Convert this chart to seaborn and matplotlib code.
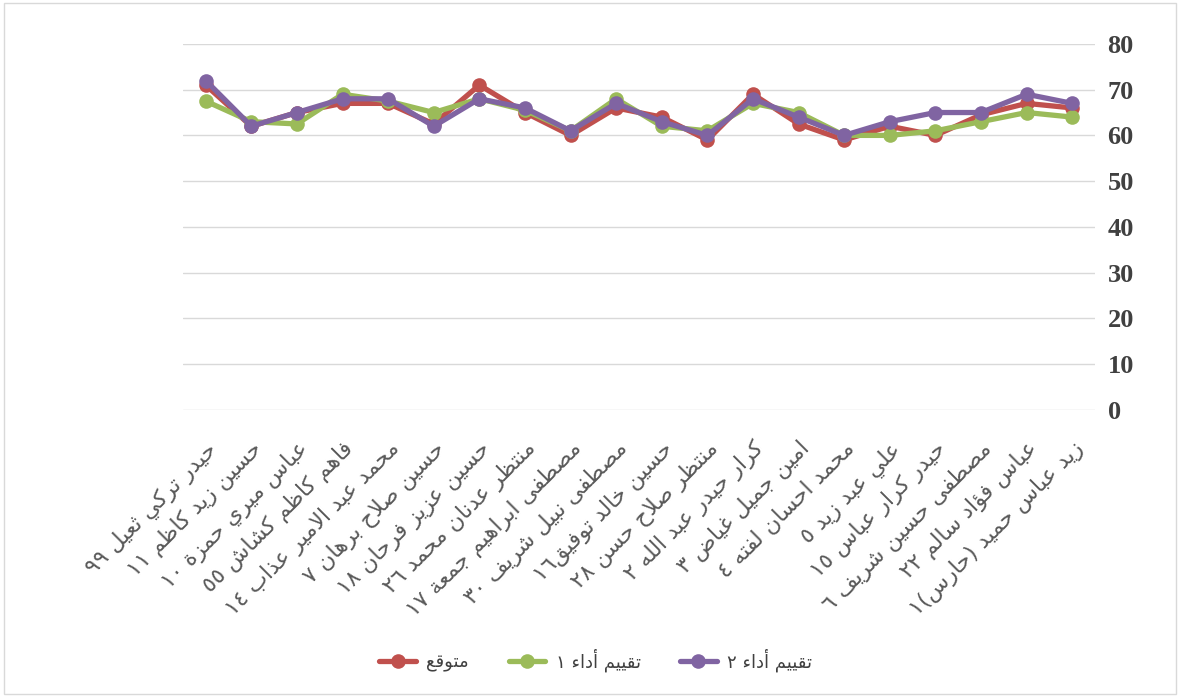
import pandas as pd
import seaborn as sns
import matplotlib.pyplot as plt
from matplotlib.patches import Rectangle

players = [
    'حيدر تركي ثعيل ٩٩', 'حسين زيد كاظم ١١', 'عباس ميري حمزة ١٠', 'فاهم كاظم كشاش ٥٥',
    'محمد عبد الامير عذاب ١٤', 'حسين صلاح برهان ٧', 'حسين عزيز فرحان ١٨', 'منتظر عدنان محمد ٢٦',
    'مصطفى ابراهيم جمعة ١٧', 'مصطفى نبيل شريف ٣٠', 'حسين خالد توفيق١٦', 'منتظر صلاح حسن ٢٨',
    'كرار حيدر عبد الله ٢', 'امين جميل غياض ٣', 'محمد احسان لفته ٤', 'علي عبد زيد ٥',
    'حيدر كرار عباس ١٥', 'مصطفى حسين شريف ٦', 'عباس فؤاد سالم ٢٢', 'زيد عباس حميد (حارس)١',
]
series_names = ['متوقع', 'تقييم أداء ١', 'تقييم أداء ٢']
expected = [71, 62, 65, 67, 67, 62.5, 71, 65, 60, 66, 64, 59, 69, 62.5, 59, 62, 60, 64.5, 67, 66]
eval1 = [67.5, 63, 62.5, 69, 67.5, 65, 68, 65.5, 61, 68, 62, 61, 67, 65, 60, 60, 61, 63, 65, 64]
eval2 = [72, 62, 65, 68, 68, 62, 68, 66, 61, 67, 63, 60, 68, 64, 60, 63, 65, 65, 69, 67]
y_ticks = [0, 10, 20, 30, 40, 50, 60, 70, 80]

palette = ['#C0504D', '#9BBB59', '#8064A2']

# matplotlib does no arabic shaping, so map letters to their joined presentation forms
# (isolated code point, joining type: D = both sides, R = right only, U = none)
FORMS = {
    'ء': (0xFE80, 'U'), 'آ': (0xFE81, 'R'), 'أ': (0xFE83, 'R'), 'ؤ': (0xFE85, 'R'),
    'إ': (0xFE87, 'R'), 'ئ': (0xFE89, 'D'), 'ا': (0xFE8D, 'R'), 'ب': (0xFE8F, 'D'),
    'ة': (0xFE93, 'R'), 'ت': (0xFE95, 'D'), 'ث': (0xFE99, 'D'), 'ج': (0xFE9D, 'D'),
    'ح': (0xFEA1, 'D'), 'خ': (0xFEA5, 'D'), 'د': (0xFEA9, 'R'), 'ذ': (0xFEAB, 'R'),
    'ر': (0xFEAD, 'R'), 'ز': (0xFEAF, 'R'), 'س': (0xFEB1, 'D'), 'ش': (0xFEB5, 'D'),
    'ص': (0xFEB9, 'D'), 'ض': (0xFEBD, 'D'), 'ط': (0xFEC1, 'D'), 'ظ': (0xFEC5, 'D'),
    'ع': (0xFEC9, 'D'), 'غ': (0xFECD, 'D'), 'ف': (0xFED1, 'D'), 'ق': (0xFED5, 'D'),
    'ك': (0xFED9, 'D'), 'ل': (0xFEDD, 'D'), 'م': (0xFEE1, 'D'), 'ن': (0xFEE5, 'D'),
    'ه': (0xFEE9, 'D'), 'و': (0xFEED, 'R'), 'ى': (0xFEEF, 'R'), 'ي': (0xFEF1, 'D'),
}
LAM_ALEF = {'آ': 0xFEF5, 'أ': 0xFEF7, 'إ': 0xFEF9, 'ا': 0xFEFB}


def shape_arabic(text):
    chars = []
    i = 0
    while i < len(text):
        c = text[i]
        if c == 'ل' and i + 1 < len(text) and text[i + 1] in LAM_ALEF:
            chars.append((LAM_ALEF[text[i + 1]], 'R'))
            i += 2
            continue
        chars.append(FORMS.get(c, (c, None)))
        i += 1

    glyphs = []
    for k, (code, kind) in enumerate(chars):
        if kind is None:
            glyphs.append(code)
            continue
        if kind == 'U':
            glyphs.append(chr(code))
            continue
        prev_joins = k > 0 and chars[k - 1][1] == 'D'
        next_joins = kind == 'D' and k + 1 < len(chars) and chars[k + 1][1] in ('R', 'D')
        if prev_joins and next_joins:
            off = 3
        elif prev_joins:
            off = 1
        elif next_joins:
            off = 2
        else:
            off = 0
        glyphs.append(chr(code + off))

    # right to left: reverse, but keep the digits of a number in their order
    runs = []
    for g in glyphs:
        if g.isdigit() and runs and runs[-1].isdigit():
            runs[-1] += g
        else:
            runs.append(g)
    mirror = {'(': ')', ')': '('}
    return ''.join(mirror.get(r, r) for r in reversed(runs))


n = len(players)
df = pd.DataFrame({
    'pos': list(range(n)) * 3,
    'value': expected + eval1 + eval2,
    'series': [s for s in series_names for _ in range(n)],
})

sns.set_style('white')
plt.rcParams['font.family'] = ['DejaVu Sans']

fig = plt.figure(figsize=(11.8, 6.97), dpi=100)
ax = fig.add_axes([0.155, 0.412, 0.773, 0.525])

sns.lineplot(data=df, x='pos', y='value', hue='series', hue_order=series_names,
             palette=palette, marker='o', markersize=10.5, markeredgewidth=0,
             linewidth=3.8, legend=False, ax=ax)

ax.set_xlim(-0.5, n - 0.5)
ax.set_ylim(0, 80)
ax.set_yticks(y_ticks)
ax.yaxis.tick_right()
ax.tick_params(axis='y', length=0, pad=9, labelsize=19, labelcolor='#404040')
for lab in ax.get_yticklabels():
    lab.set_fontfamily(['Liberation Serif'])
    lab.set_fontweight('bold')

ax.set_xticks(range(n))
ax.set_xticklabels([shape_arabic(p) for p in players], rotation=45, ha='right', va='top',
                   rotation_mode='anchor', fontsize=16, color='#595959')
ax.tick_params(axis='x', length=0, pad=20)

ax.grid(axis='y', color='#D9D9D9', linewidth=1)
ax.set_axisbelow(True)
for s in ax.spines.values():
    s.set_visible(False)
ax.set_xlabel('')
ax.set_ylabel('')

leg = ax.legend(ax.get_lines()[:3], [shape_arabic(s) for s in series_names],
                loc='center', bbox_to_anchor=(0.505, 0.053), bbox_transform=fig.transFigure,
                ncol=3, frameon=False, fontsize=13, handlelength=2.0, handletextpad=0.6,
                columnspacing=2.2)
for t in leg.get_texts():
    t.set_color('#404040')

fig.add_artist(Rectangle((0.003, 0.004), 0.994, 0.992, transform=fig.transFigure,
                         fill=False, edgecolor='#D9D9D9', linewidth=1))

fig.savefig('out.png', dpi=100)
